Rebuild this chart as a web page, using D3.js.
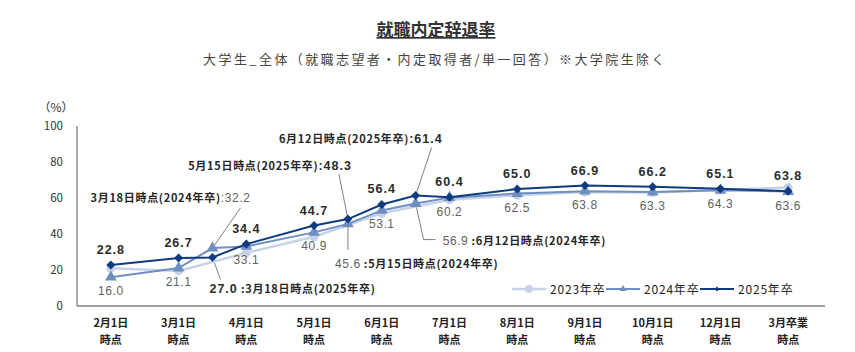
<!DOCTYPE html>
<html lang="ja">
<head>
<meta charset="UTF-8">
<title>就職内定辞退率</title>
<style>
  body { margin: 0; background: #fff; }
  svg { display: block; font-family: "Noto Sans CJK JP", "Noto Sans", sans-serif; }
</style>
</head>
<body>
<div id="chart"></div>
<script src="https://cdn.jsdelivr.net/npm/d3@7/dist/d3.min.js"></script>
<script>
// categories on the x axis (index positions 0..10)
const categories = ["2月1日", "3月1日", "4月1日", "5月1日", "6月1日", "7月1日", "8月1日", "9月1日", "10月1日", "12月1日", "3月卒業"];
const categorySub = "時点";

// 2023 only at the main points
const x2023 = [0, 1, 2, 3, 4, 5, 6, 7, 8, 9, 10];
const val2023 = [21.0, 19.5, 29.5, 38.5, 51.5, 59.0, 61.5, 63.3, 63.0, 64.5, 65.8];

// 2024 / 2025 include 3/18, 5/15, 6/12 (half positions)
const x2024 = [0, 1, 1.5, 2, 3, 3.5, 4, 4.5, 5, 6, 7, 8, 9, 10];
const val2024 = [16.0, 21.1, 32.2, 33.1, 40.9, 45.6, 53.1, 56.9, 60.2, 62.5, 63.8, 63.3, 64.3, 63.6];
const x2025 = [0, 1, 1.5, 2, 3, 3.5, 4, 4.5, 5, 6, 7, 8, 9, 10];
const val2025 = [22.8, 26.7, 27.0, 34.4, 44.7, 48.3, 56.4, 61.4, 60.4, 65.0, 66.9, 66.2, 65.1, 63.8];

const yTicks = [0, 20, 40, 60, 80, 100];
const seriesNames = ["2023年卒", "2024年卒", "2025年卒"];

// callouts for the in-between dates
const callouts = [
  {series: "2024", x: 1.5, label: "3月18日時点(2024年卒)", valueFirst: false},
  {series: "2025", x: 1.5, label: "3月18日時点(2025年卒)", valueFirst: true},
  {series: "2025", x: 3.5, label: "5月15日時点(2025年卒)", valueFirst: false},
  {series: "2024", x: 3.5, label: "5月15日時点(2024年卒)", valueFirst: true},
  {series: "2025", x: 4.5, label: "6月12日時点(2025年卒)", valueFirst: false},
  {series: "2024", x: 4.5, label: "6月12日時点(2024年卒)", valueFirst: true}
];

const W = 855, H = 352;
const svg = d3.select("#chart").append("svg").attr("width", W).attr("height", H);

const x = d3.scaleLinear().domain([-0.5, 10.5]).range([77, 822]);
const y = d3.scaleLinear().domain([0, 100]).range([306, 126]);

const colors = {"2023": "#c6d3e7", "2024": "#6f8fc2", "2025": "#0f3b7f"};

// title
svg.append("text")
  .attr("x", 436).attr("y", 36)
  .attr("text-anchor", "middle")
  .attr("font-size", 17).attr("font-weight", "bold")
  .attr("fill", "#333")
  .attr("text-decoration", "underline")
  .text("就職内定辞退率");

svg.append("text")
  .attr("x", 435).attr("y", 64)
  .attr("text-anchor", "middle")
  .attr("font-size", 13)
  .attr("letter-spacing", 2.4)
  .attr("fill", "#444")
  .text("大学生_全体（就職志望者・内定取得者/単一回答）※大学院生除く");

// axes
svg.append("line")
  .attr("x1", 77).attr("x2", 77).attr("y1", y(100)).attr("y2", y(0))
  .attr("stroke", "#808080").attr("stroke-width", 1.3);
svg.append("line")
  .attr("x1", 77).attr("x2", 825).attr("y1", y(0)).attr("y2", y(0))
  .attr("stroke", "#808080").attr("stroke-width", 1.3);

svg.selectAll("text.ytick")
  .data(yTicks)
  .join("text")
    .attr("class", "ytick")
    .attr("x", 63).attr("y", (d) => y(d) + 4)
    .attr("text-anchor", "end")
    .attr("font-size", 11.5)
    .attr("fill", "#333")
    .text((d) => d);

svg.append("text")
  .attr("x", 56).attr("y", 112)
  .attr("text-anchor", "middle")
  .attr("font-size", 12)
  .attr("fill", "#333")
  .text("（%）");

const xt = svg.selectAll("g.xtick")
  .data(categories)
  .join("g")
    .attr("class", "xtick")
    .attr("transform", (d, i) => `translate(${x(i)},0)`);
xt.append("text")
  .attr("y", 327).attr("text-anchor", "middle")
  .attr("font-size", 11).attr("font-weight", "bold").attr("fill", "#222")
  .text((d) => d);
xt.append("text")
  .attr("y", 344).attr("text-anchor", "middle")
  .attr("font-size", 11).attr("font-weight", "bold").attr("fill", "#222")
  .text(categorySub);

// series data
const s2023 = x2023.map((d, i) => ({x: d, v: val2023[i]}));
const s2024 = x2024.map((d, i) => ({x: d, v: val2024[i]}));
const s2025 = x2025.map((d, i) => ({x: d, v: val2025[i]}));
const seriesData = {"2023": s2023, "2024": s2024, "2025": s2025};

const line = d3.line().x((d) => x(d.x)).y((d) => y(d.v));

// leader lines for callouts
const leaderG = svg.append("g");
function pt(c) {
  const d = seriesData[c.series].find((p) => p.x === c.x);
  return [x(d.x), y(d.v), d.v];
}
const leaderPaths = [
  (p) => [[p[0] + 28, p[1] - 40], p],
  (p) => [p, [p[0] + 8, p[1] + 22]],
  (p) => [[p[0] - 9, p[1] - 45], p],
  (p) => [p, [p[0], p[1] + 26]],
  (p) => [[p[0] + 16, p[1] - 48], p],
  (p) => [p, [p[0] + 8, p[1] + 36], [p[0] + 20, p[1] + 36]]
];
callouts.forEach((c, i) => {
  const p = pt(c);
  leaderG.append("path")
    .attr("d", d3.line()(leaderPaths[i](p).map((q) => [q[0], q[1]])))
    .attr("fill", "none")
    .attr("stroke", "#808080")
    .attr("stroke-width", 1);
});

// lines
svg.append("path").datum(s2023).attr("d", line)
  .attr("fill", "none").attr("stroke", colors["2023"]).attr("stroke-width", 2.5);
svg.selectAll("circle.m2023").data(s2023).join("circle")
  .attr("class", "m2023")
  .attr("cx", (d) => x(d.x)).attr("cy", (d) => y(d.v)).attr("r", 4.5)
  .attr("fill", colors["2023"]);

svg.append("path").datum(s2024).attr("d", line)
  .attr("fill", "none").attr("stroke", colors["2024"]).attr("stroke-width", 2);
svg.selectAll("path.m2024").data(s2024).join("path")
  .attr("class", "m2024")
  .attr("transform", (d) => `translate(${x(d.x)},${y(d.v)})`)
  .attr("d", d3.symbol(d3.symbolTriangle, 60))
  .attr("fill", colors["2024"]);

svg.append("path").datum(s2025).attr("d", line)
  .attr("fill", "none").attr("stroke", colors["2025"]).attr("stroke-width", 2);
svg.selectAll("path.m2025").data(s2025).join("path")
  .attr("class", "m2025")
  .attr("transform", (d) => `translate(${x(d.x)},${y(d.v)}) rotate(45)`)
  .attr("d", d3.symbol(d3.symbolSquare, 40))
  .attr("fill", colors["2025"]);

// value labels at main points
svg.selectAll("text.l2025")
  .data(s2025.filter((d) => Number.isInteger(d.x)))
  .join("text")
    .attr("class", "l2025")
    .attr("x", (d) => x(d.x)).attr("y", (d) => y(d.v) - 11)
    .attr("text-anchor", "middle")
    .attr("font-family", "Liberation Sans, Arial, sans-serif")
    .attr("font-size", 12.5).attr("font-weight", "bold")
    .attr("letter-spacing", 1)
    .attr("fill", "#2b2b2b")
    .text((d) => d.v.toFixed(1));

svg.selectAll("text.l2024")
  .data(s2024.filter((d) => Number.isInteger(d.x)))
  .join("text")
    .attr("class", "l2024")
    .attr("x", (d) => x(d.x)).attr("y", (d) => y(d.v) + 18)
    .attr("text-anchor", "middle")
    .attr("font-family", "Liberation Sans, Arial, sans-serif")
    .attr("font-size", 12)
    .attr("letter-spacing", 0.6)
    .attr("fill", "#5f5f5f")
    .text((d) => d.v.toFixed(1));

// callout texts
const calloutPos = [
  {dx: 38, dy: -46, anchor: "end"},
  {dx: -3, dy: 36, anchor: "start"},
  {dx: 4, dy: -49, anchor: "end"},
  {dx: -13, dy: 44, anchor: "start"},
  {dx: 27, dy: -52, anchor: "end"},
  {dx: 27, dy: 41, anchor: "start"}
];
callouts.forEach((c, i) => {
  const p = pt(c);
  const pos = calloutPos[i];
  const bold = c.series === "2025";
  const t = svg.append("text")
    .attr("x", p[0] + pos.dx).attr("y", p[1] + pos.dy)
    .attr("text-anchor", pos.anchor)
    .attr("font-size", 11)
    .attr("letter-spacing", 0.7)
    .attr("fill", "#262626");
  const valSpan = (sel) => sel
    .attr("font-family", "Liberation Sans, Arial, sans-serif")
    .attr("font-size", bold ? 12.5 : 12)
    .attr("font-weight", bold ? "bold" : "normal")
    .attr("letter-spacing", bold ? 1 : 0.6)
    .attr("fill", bold ? "#2b2b2b" : "#5f5f5f");
  if (c.valueFirst) {
    t.append("tspan").call(valSpan).text(p[2].toFixed(1));
    t.append("tspan").attr("font-weight", "bold").text(" :" + c.label);
  } else {
    t.append("tspan").attr("font-weight", "bold").text(c.label);
    t.append("tspan").call(valSpan).text(":" + p[2].toFixed(1));
  }
});

// legend
const legendX = [512, 606, 700];
const lg = svg.selectAll("g.legend")
  .data(seriesNames)
  .join("g")
    .attr("class", "legend")
    .attr("transform", (d, i) => `translate(${legendX[i]},289)`);
lg.append("line")
  .attr("x1", 0).attr("x2", 34)
  .attr("stroke", (d, i) => colors[["2023", "2024", "2025"][i]])
  .attr("stroke-width", (d, i) => i === 0 ? 2.5 : 2);
lg.each(function (d, i) {
  const g = d3.select(this);
  if (i === 0) {
    g.append("circle").attr("cx", 17).attr("r", 4).attr("fill", colors["2023"]);
  } else if (i === 1) {
    g.append("path").attr("transform", "translate(17,0)")
      .attr("d", d3.symbol(d3.symbolTriangle, 22)).attr("fill", colors["2024"]);
  } else {
    g.append("path").attr("transform", "translate(17,0) rotate(45)")
      .attr("d", d3.symbol(d3.symbolSquare, 12)).attr("fill", colors["2025"]);
  }
});
lg.append("text")
  .attr("x", 38).attr("y", 4.5)
  .attr("font-size", 12)
  .attr("letter-spacing", 0.8)
  .attr("fill", "#222")
  .text((d) => d);
</script>
</body>
</html>
